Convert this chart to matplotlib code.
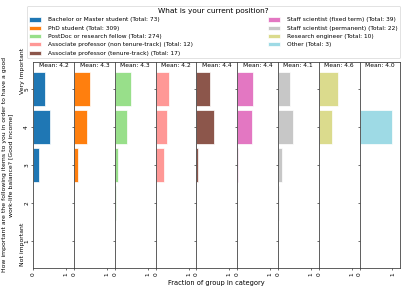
import matplotlib
matplotlib.use("Agg")
import matplotlib.pyplot as plt
import numpy as np

categories = [1, 2, 3, 4, 5]
groups = [
    "Bachelor or Master student (Total: 73)",
    "PhD student (Total: 309)",
    "PostDoc or research fellow (Total: 274)",
    "Associate professor (non tenure-track) (Total: 12)",
    "Associate professor (tenure-track) (Total: 17)",
    "Staff scientist (fixed term) (Total: 39)",
    "Staff scientist (permanent) (Total: 22)",
    "Research engineer (Total: 10)",
    "Other (Total: 3)",
]
bachelor = [0.0, 0.0, 0.164, 0.493, 0.342]
phd = [0.01, 0.0, 0.11, 0.40, 0.48]
postdoc = [0.0, 0.04, 0.11, 0.37, 0.48]
assoc_non_tenure = [0.0, 0.0, 0.25, 0.333, 0.417]
assoc_tenure = [0.0, 0.0, 0.059, 0.529, 0.412]
staff_fixed = [0.0, 0.0, 0.03, 0.46, 0.49]
staff_perm = [0.0, 0.045, 0.136, 0.455, 0.364]
research_eng = [0.0, 0.0, 0.0, 0.4, 0.6]
other = [0.0, 0.0, 0.0, 1.0, 0.0]
fractions = [bachelor, phd, postdoc, assoc_non_tenure, assoc_tenure,
             staff_fixed, staff_perm, research_eng, other]
means = ["4.2", "4.3", "4.3", "4.2", "4.4", "4.4", "4.1", "4.6", "4.0"]
colors = ["#1f77b4", "#ff7f0e", "#98df8a", "#ff9896", "#8c564b",
          "#e377c2", "#c7c7c7", "#dbdb8d", "#9edae5"]

W, H = 407, 291
fig = plt.figure(figsize=(W / 100, H / 100), dpi=100)
left_px, right_px = 33.3, 400.3
top_px, bot_px = 62, 268
n = len(groups)
pw = (right_px - left_px) / n
axes = []
handles = []
for i in range(n):
    ax = fig.add_axes([(left_px + i * pw) / W, 1 - bot_px / H, pw / W, (bot_px - top_px) / H])
    b = ax.barh(categories, fractions[i], height=0.9, color=colors[i],
                edgecolor="white", linewidth=0.5, label=groups[i])
    handles.append(b)
    ax.set_xlim(0, 1.24)
    ax.set_ylim(0.3, 5.7)
    ax.set_xticks([0, 1])
    ax.set_xticklabels(["0", "1"], rotation=90, fontsize=4.2)
    ax.set_yticks(categories)
    if i == 0:
        ax.set_yticklabels([str(c) for c in categories], rotation=90, fontsize=4.2, va="center")
    else:
        ax.set_yticklabels([])
    ax.tick_params(length=1.5, width=0.5, pad=1.5, color="#333333")
    for s in ax.spines.values():
        s.set_linewidth(0.6)
        s.set_color("#444444")
    ax.text(0.5, 0.995, f"Mean: {means[i]}", transform=ax.transAxes,
            ha="center", va="top", fontsize=4.3)
    axes.append(ax)

ax0 = axes[0]
ax0.text(-0.34, 4.85, "Very important", rotation=90, ha="center", va="bottom",
         fontsize=4.4, clip_on=False)
ax0.text(-0.34, 0.92, "Not important", rotation=90, ha="center", va="center",
         fontsize=4.4, clip_on=False)
fig.text(8 / W, 1 - 165 / H,
         "How important are the following items to you in order to have a good\nwork-life balance? [Good income]",
         rotation=90, ha="center", va="center", fontsize=4.4, linespacing=1.25,
         multialignment="center")

fig.text((left_px + right_px) / 2 / W, 1 - 283 / H, "Fraction of group in category",
         ha="center", va="center", fontsize=4.8)

leg = fig.legend(handles=handles, labels=groups, ncol=2, loc="lower left",
                 bbox_to_anchor=(27 / W, 1 - 58 / H, (400 - 27) / W, 53 / H),
                 mode="expand", fontsize=4.2, title="What is your current position?",
                 title_fontsize=5.3, frameon=True, borderaxespad=0.0,
                 labelspacing=0.55, handletextpad=1.2)
leg.get_frame().set_linewidth(0.5)
leg.get_frame().set_edgecolor("#cccccc")

fig.savefig("out.png", dpi=100)
